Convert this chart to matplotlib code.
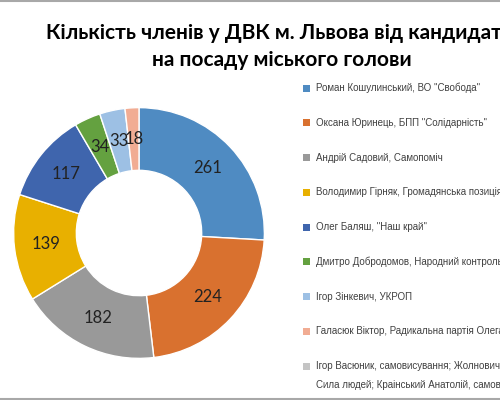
import matplotlib.pyplot as plt
from matplotlib.patches import Rectangle
from matplotlib.lines import Line2D

# Data
candidates = ['Роман Кошулинський, ВО "Свобода"',
              'Оксана Юринець, БПП "Солідарність"',
              'Андрій Садовий, Самопоміч',
              'Володимир Гірняк, Громадянська позиція',
              'Олег Баляш, "Наш край"',
              'Дмитро Добродомов, Народний контроль',
              'Ігор Зінкевич, УКРОП',
              'Галасюк Віктор, Радикальна партія Олега Ляшка',
              'Ігор Васюник, самовисування; Жолнович Олег,\nСила людей; Краінський Анатолій, самовисування']
members = [261, 224, 182, 139, 117, 34, 33, 18]
colors = ['#4F8BC2', '#D9712F', '#999999', '#E8B000', '#3F65AD',
          '#64A140', '#9DC0E4', '#F1AC93', '#C4C4C4']

W, H = 500, 400
fig = plt.figure(figsize=(5, 4), dpi=100)

# donut
cx, cy, r = 139, 233, 126
ax = fig.add_axes([(cx - r) / W, (H - cy - r) / H, 2 * r / W, 2 * r / H])
total = sum(members)
wedges, texts, autotexts = ax.pie(
    members, colors=colors[:len(members)], startangle=90, counterclock=False,
    radius=1, pctdistance=0.75,
    autopct=lambda p: '%d' % round(p * total / 100),
    wedgeprops=dict(width=0.5, edgecolor='white', linewidth=1),
    textprops=dict(fontsize=12, family='Lato', color='#222222'))
ax.set_xlim(-1.005, 1.005)
ax.set_ylim(-1.005, 1.005)
ax.set_aspect('equal')

# title
fig.text(0.564, 1 - 33 / H, 'Кількість членів у ДВК м. Львова від кандидатів',
         ha='center', va='center', fontsize=15, fontweight='bold', family='Lato')
fig.text(0.564, 1 - 60 / H, 'на посаду міського голови',
         ha='center', va='center', fontsize=15, fontweight='bold', family='Lato')

# legend
for i, (name, c) in enumerate(zip(candidates, colors)):
    y = 88 + 34.75 * i
    fig.add_artist(Rectangle((303 / W, 1 - (y + 3.5) / H), 7 / W, 7 / H,
                             transform=fig.transFigure, facecolor=c, edgecolor='none'))
    for k, line in enumerate(name.split('\n')):
        fig.text(316 / W, 1 - (y + 19 * k) / H, line, ha='left', va='center',
                 fontsize=7, family='Liberation Sans', color='#404040')

# border lines
fig.add_artist(Line2D([0, 1], [0.998, 0.998], color='#a8a8a8', linewidth=1.5))
fig.add_artist(Line2D([0, 1], [0.003, 0.003], color='#a8a8a8', linewidth=1.5))

fig.savefig('out.png', dpi=100)
